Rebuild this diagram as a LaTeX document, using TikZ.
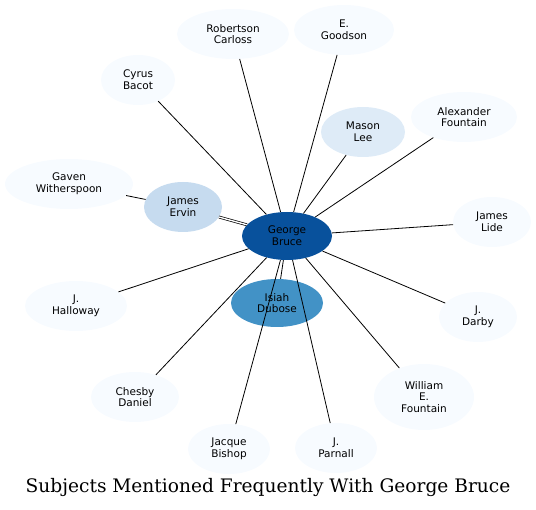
\documentclass[tikz,border=0pt]{standalone}
\usepackage{fontspec}
\setsansfont{DejaVu Sans}
\newfontfamily\titlefont{DejaVu Serif}
\usepackage{xcolor}
\usetikzlibrary{shapes.geometric}

\definecolor{pale}{HTML}{F7FBFF}
\definecolor{lightblue}{HTML}{DEEBF7}
\definecolor{midlight}{HTML}{C6DBEF}
\definecolor{midblue}{HTML}{4292C6}
\definecolor{darkblue}{HTML}{08519C}

\begin{document}
\begin{tikzpicture}[
    x=1pt, y=-1pt,
    person/.style={ellipse, fill=pale, inner sep=0pt, align=center, font=\sffamily\fontsize{10.5}{11.7}\selectfont, minimum width=#1},
    person/.default=80pt,
    edge/.style={draw=black, line width=0.8pt}
]
    \useasboundingbox (0,0) rectangle (536,510);

    % centre and the closest subjects
    \node[person=90pt, minimum height=48pt, fill=darkblue] (bruce) at (287,236) {George\\Bruce};
    \node[person=92pt, minimum height=48pt, fill=midblue] (dubose) at (277,303) {Isiah\\Dubose};
    \node[person=78pt, minimum height=50pt, fill=midlight] (ervin) at (183,207) {James\\Ervin};
    \node[person=84pt, minimum height=50pt, fill=lightblue] (lee) at (363,132) {Mason\\Lee};

    % outer ring
    \node[person=112pt, minimum height=50pt] (carloss) at (233,34) {Robertson\\Carloss};
    \node[person=100pt, minimum height=50pt] (goodson) at (344,30) {E.\\Goodson};
    \node[person=74pt, minimum height=50pt] (bacot) at (138,80) {Cyrus\\Bacot};
    \node[person=106pt, minimum height=50pt] (afountain) at (464,117) {Alexander\\Fountain};
    \node[person=128pt, minimum height=50pt] (witherspoon) at (69,184) {Gaven\\Witherspoon};
    \node[person=78pt, minimum height=50pt] (lide) at (492,222) {James\\Lide};
    \node[person=102pt, minimum height=50pt] (halloway) at (76,306) {J.\\Halloway};
    \node[person=78pt, minimum height=50pt] (darby) at (478,317) {J.\\Darby};
    \node[person=88pt, minimum height=50pt] (daniel) at (135,397) {Chesby\\Daniel};
    \node[person=100pt, minimum height=66pt] (wfountain) at (424,397) {William\\E.\\Fountain};
    \node[person=82pt, minimum height=50pt] (bishop) at (229,449) {Jacque\\Bishop};
    \node[person=82pt, minimum height=50pt] (parnall) at (336,448) {J.\\Parnall};

    % edges
    \draw[edge] (bruce) -- (carloss);
    \draw[edge] (bruce) -- (goodson);
    \draw[edge] (bruce) -- (bacot);
    \draw[edge] (bruce) -- (lee);
    \draw[edge] (bruce) -- (afountain);
    \draw[edge, double, double distance=1.4pt, line width=0.7pt] (bruce) -- (ervin);
    \draw[edge] (ervin) -- (witherspoon);
    \draw[edge] (bruce) -- (lide);
    \draw[edge] (bruce) -- (halloway);
    \draw[edge] (bruce) -- (darby);
    \draw[edge] (bruce) -- (daniel);
    \draw[edge] (bruce) -- (wfountain);
    \draw[edge] (bruce) -- (dubose);
    \draw[edge] (bruce) -- (bishop);
    \draw[edge] (bruce) -- (parnall);

    \node[font=\titlefont\fontsize{18.6}{22}\selectfont] (title) at (268,488) {Subjects Mentioned Frequently With George Bruce};
\end{tikzpicture}
\end{document}
